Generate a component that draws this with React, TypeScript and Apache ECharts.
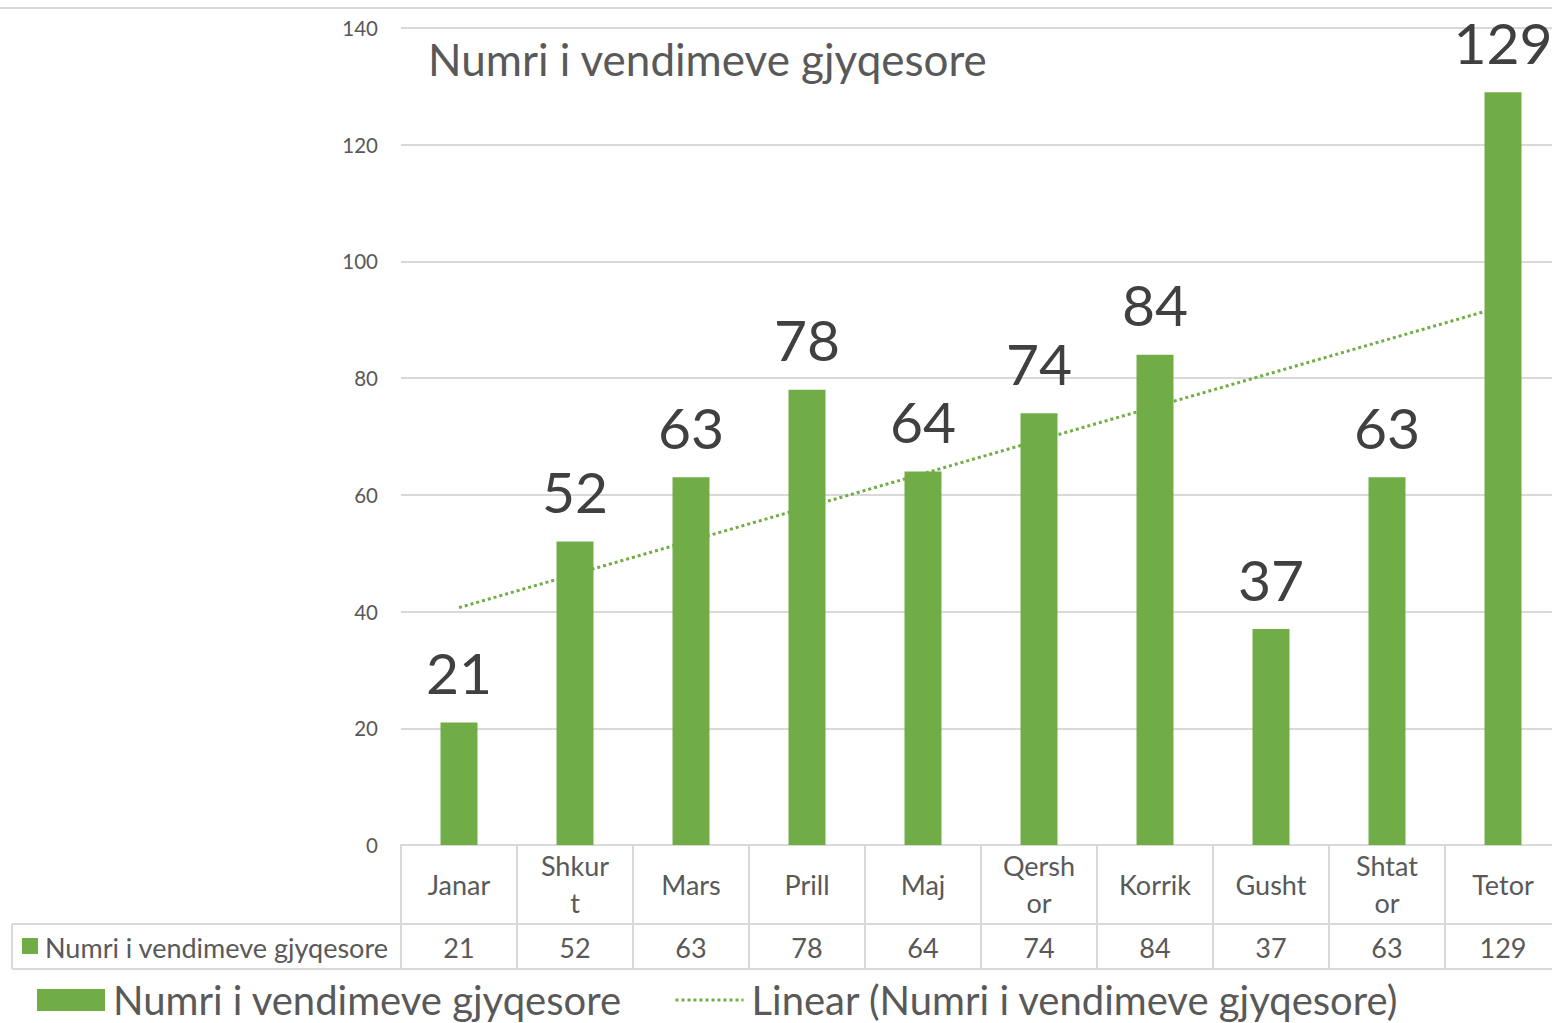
import React, { useEffect, useRef } from "react";
import * as echarts from "echarts";

const categories = ["Janar", "Shkurt", "Mars", "Prill", "Maj", "Qershor", "Korrik", "Gusht", "Shtator", "Tetor"];
const categoryLabels = ["Janar", "Shkur\nt", "Mars", "Prill", "Maj", "Qersh\nor", "Korrik", "Gusht", "Shtat\nor", "Tetor"];
const values = [21, 52, 63, 78, 64, 74, 84, 37, 63, 129];
const yTicks = [0, 20, 40, 60, 80, 100, 120, 140];
const seriesName = "Numri i vendimeve gjyqesore";
const trendName = "Linear (Numri i vendimeve gjyqesore)";
const title = "Numri i vendimeve gjyqesore";

function linearTrend(vals: number[]): number[] {
  const n = vals.length;
  const xs = vals.map((_, i) => i + 1);
  const mx = xs.reduce((a, b) => a + b, 0) / n;
  const my = vals.reduce((a, b) => a + b, 0) / n;
  let sxy = 0;
  let sxx = 0;
  for (let i = 0; i < n; i++) {
    sxy += (xs[i] - mx) * (vals[i] - my);
    sxx += (xs[i] - mx) * (xs[i] - mx);
  }
  const b = sxy / sxx;
  const a = my - b * mx;
  return xs.map((x) => +(a + b * x).toFixed(3));
}

const FONT = "Lato";
const GREEN = "#70ad47";
const GRID = "#d9d9d9";
const AXIS_TEXT = "#595959";

export default function App() {
  const ref = useRef<HTMLDivElement>(null);
  useEffect(() => {
    if (!ref.current) return;
    const chart = echarts.init(ref.current, undefined, { renderer: "svg" });
    const trend = linearTrend(values);
    chart.setOption({
      animation: false,
      textStyle: { fontFamily: FONT },
      title: {
        text: title,
        left: 423,
        top: 32,
        textStyle: { fontFamily: FONT, fontSize: 44, fontWeight: "normal", color: AXIS_TEXT },
      },
      legend: {
        left: 37,
        top: 978,
        padding: 0,
        itemWidth: 68,
        itemHeight: 22,
        itemGap: 52,
        textStyle: { fontFamily: FONT, fontSize: 40, lineHeight: 44, color: AXIS_TEXT, padding: [0, 0, 0, 3] },
        data: [
          { name: seriesName, icon: "rect" },
          { name: trendName, itemStyle: { opacity: 0 }, lineStyle: { width: 3, type: "dotted", color: GREEN } },
        ],
      },
      grid: { left: 401, top: 28, width: 1160, height: 817, containLabel: false },
      xAxis: [
        {
          type: "category",
          data: categories,
          position: "bottom",
          axisLine: { show: true, lineStyle: { color: GRID, width: 2 } },
          axisTick: { show: true, length: 124, interval: 0, lineStyle: { color: GRID, width: 2 } },
          axisLabel: {
            interval: 0,
            margin: 39,
            verticalAlign: "middle",
            fontFamily: FONT,
            fontSize: 27,
            lineHeight: 37,
            color: AXIS_TEXT,
            formatter: (_v: string, i: number) => categoryLabels[i],
          },
        },
        {
          type: "category",
          data: values.map((v) => String(v)),
          position: "bottom",
          offset: 79,
          axisLine: { show: true, lineStyle: { color: GRID, width: 2 } },
          axisTick: { show: false },
          axisLabel: {
            interval: 0,
            margin: 23,
            verticalAlign: "middle",
            fontFamily: FONT,
            fontSize: 27,
            color: AXIS_TEXT,
          },
        },
        {
          type: "category",
          data: categories,
          position: "bottom",
          offset: 124,
          axisLine: { show: true, lineStyle: { color: GRID, width: 2 } },
          axisTick: { show: false },
          axisLabel: { show: false },
        },
      ],
      yAxis: {
        type: "value",
        min: yTicks[0],
        max: yTicks[yTicks.length - 1],
        interval: 20,
        axisLine: { show: false },
        axisTick: { show: false },
        splitLine: { lineStyle: { color: GRID, width: 2 } },
        axisLabel: { margin: 23, fontFamily: FONT, fontSize: 20.5, color: AXIS_TEXT },
      },
      series: [
        {
          name: seriesName,
          type: "bar",
          xAxisIndex: 0,
          data: values,
          barWidth: 37,
          itemStyle: { color: GREEN },
          label: {
            show: true,
            position: "top",
            distance: 22,
            fontFamily: FONT,
            fontSize: 57,
            color: "#404040",
          },
        },
        {
          name: trendName,
          type: "line",
          xAxisIndex: 0,
          data: trend,
          symbol: "none",
          lineStyle: { color: GREEN, width: 3, type: "dotted" },
          itemStyle: { color: GREEN },
          z: 3,
        },
      ],
      graphic: [
        { type: "line", shape: { x1: 0, y1: 8, x2: 1561, y2: 8 }, style: { stroke: GRID, lineWidth: 2 } },
        { type: "line", shape: { x1: 12, y1: 924, x2: 401, y2: 924 }, style: { stroke: GRID, lineWidth: 2 } },
        { type: "line", shape: { x1: 12, y1: 969, x2: 401, y2: 969 }, style: { stroke: GRID, lineWidth: 2 } },
        { type: "line", shape: { x1: 12, y1: 924, x2: 12, y2: 969 }, style: { stroke: GRID, lineWidth: 2 } },
        { type: "rect", shape: { x: 22, y: 938, width: 16, height: 16 }, style: { fill: GREEN } },
        {
          type: "text",
          x: 45,
          y: 947,
          style: {
            text: seriesName,
            fontFamily: FONT,
            fontSize: 27,
            fill: AXIS_TEXT,
            verticalAlign: "middle",
            align: "left",
          },
        },
      ],
    });
    return () => chart.dispose();
  }, []);
  return (
    <div
      ref={ref}
      style={{ position: "fixed", left: 0, top: 0, width: 1561, height: 1023, background: "#fff" }}
    />
  );
}
